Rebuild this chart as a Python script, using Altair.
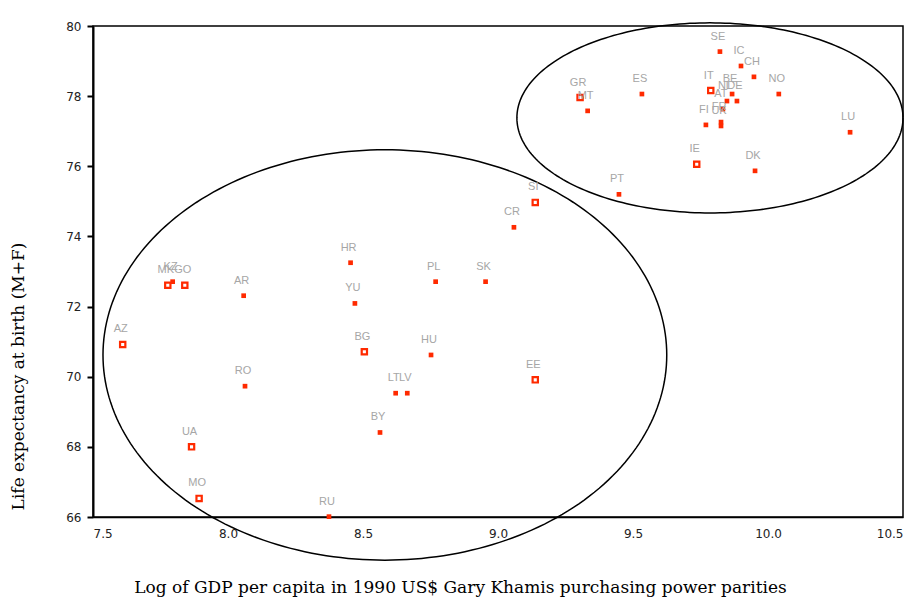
import altair as alt
import numpy as np
import pandas as pd

codes = ["SE", "IC", "CH", "NO", "LU", "DK", "IE", "PT", "ES", "GR", "MT", "IT",
         "BE", "NL", "DE", "AT", "FI", "FR", "UK",
         "SI", "CR", "HR", "PL", "SK", "YU", "BG", "HU", "LT", "LV", "EE", "BY",
         "RO", "UA", "MO", "RU", "AZ", "AR", "GO", "MK", "KZ"]
gdp = [9.822, 9.900, 9.948, 10.04, 10.304, 9.952, 9.736, 9.448, 9.533, 9.304, 9.332, 9.788,
       9.867, 9.848, 9.885, 9.833, 9.770, 9.826, 9.826,
       9.138, 9.059, 8.454, 8.769, 8.954, 8.470, 8.505, 8.752, 8.621, 8.664, 9.138, 8.563,
       8.063, 7.865, 7.893, 8.374, 7.610, 8.058, 7.840, 7.777, 7.795]
life = [79.27, 78.86, 78.55, 78.06, 76.97, 75.87, 76.06, 75.20, 78.06, 77.96, 77.58, 78.16,
        78.06, 77.86, 77.86, 77.63, 77.18, 77.26, 77.15,
        74.97, 74.26, 73.25, 72.71, 72.71, 72.09, 70.71, 70.62, 69.53, 69.53, 69.91, 68.41,
        69.73, 68.00, 66.53, 66.01, 70.92, 72.31, 72.61, 72.61, 72.71]
hollow_codes = ["IT", "GR", "IE", "SI", "BG", "EE", "UA", "MO", "AZ", "GO", "MK"]

# ellipse annotations (centre x, centre y, semi-axis x, semi-axis y) in data units
ellipse_names = ["rich", "transition"]
ellipse_cx = [9.785, 8.581]
ellipse_cy = [77.38, 70.62]
ellipse_ax = [0.715, 1.044]
ellipse_ay = [2.71, 5.85]

x_ticks = [7.5, 8.0, 8.5, 9.0, 9.5, 10.0, 10.5]
y_ticks = [66, 68, 70, 72, 74, 76, 78, 80]

df = pd.DataFrame({"code": codes, "gdp": gdp, "life": life})
df["hollow"] = df["code"].isin(hollow_codes)

rows = []
t = np.linspace(0, 2 * np.pi, 241)
for n, cx, cy, ax, ay in zip(ellipse_names, ellipse_cx, ellipse_cy, ellipse_ax, ellipse_ay):
    for i, tt in enumerate(t):
        rows.append({"name": n, "i": i, "gdp": cx + ax * np.cos(tt), "life": cy + ay * np.sin(tt)})
ell = pd.DataFrame(rows)

xs = alt.Scale(domain=[7.5, 10.5], nice=False, zero=False)
ys = alt.Scale(domain=[66, 80], nice=False, zero=False)

xenc = alt.X("gdp:Q", scale=xs, axis=alt.Axis(
    values=x_ticks, format=".1f", grid=False, ticks=False, labelPadding=11,
    domainColor="black", domainWidth=1.5,
    title="Log of GDP per capita in 1990 US$ Gary Khamis purchasing power parities",
    titlePadding=40, titleX=367, titleAlign="center", titleBaseline="top",
    titleFont="DejaVu Serif", titleFontSize=17,
    titleFontWeight="normal", titleColor="black",
    labelFont="DejaVu Sans", labelFontSize=12, labelColor="#222222"))
yenc = alt.Y("life:Q", scale=ys, axis=alt.Axis(
    values=y_ticks, format="d", grid=False, tickSize=6, tickWidth=2, tickColor="black",
    labelPadding=6, domainColor="black", domainWidth=2,
    title="Life expectancy at birth (M+F)", titlePadding=38,
    titleY=350, titleAlign="center",
    titleFont="DejaVu Serif", titleFontSize=17, titleFontWeight="normal",
    titleColor="black",
    labelFont="DejaVu Sans", labelFontSize=12, labelColor="#222222"))

ellipses = alt.Chart(ell).mark_line(color="black", strokeWidth=1.5).encode(
    x=xenc, y=yenc, detail="name:N", order="i:Q")

filled = alt.Chart(df).transform_filter("!datum.hollow").mark_square(
    color="#ff2a00", size=22, opacity=1).encode(x=xenc, y=yenc)

hollow = alt.Chart(df).transform_filter("datum.hollow").mark_point(
    shape="square", filled=False, color="#ff2a00", strokeWidth=2.2, size=28,
    opacity=1).encode(x=xenc, y=yenc)

labels = alt.Chart(df).mark_text(
    color="#a6a6a6", fontSize=11, font="Liberation Sans", dy=-15, dx=-2,
    align="center").encode(x=xenc, y=yenc, text="code:N")

chart = alt.layer(ellipses, filled, hollow, labels).properties(
    width=810, height=491,
    autosize=alt.AutoSizeParams(type="none"),
    padding={"left": 85, "top": 18, "right": 3, "bottom": 90},
).configure_view(stroke="black", strokeWidth=1.5)

chart.save("out.html", embed_options={"renderer": "svg", "actions": False})
